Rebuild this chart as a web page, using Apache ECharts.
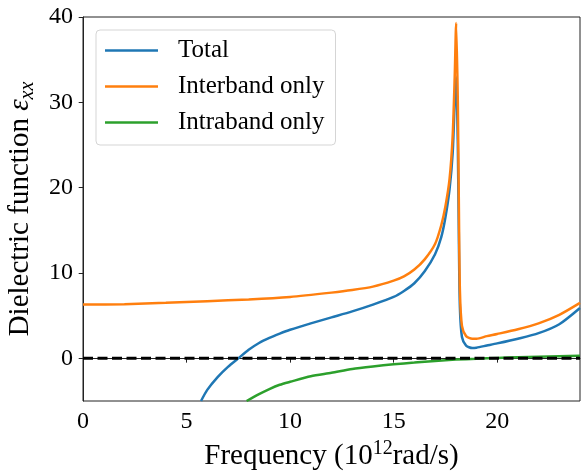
<!DOCTYPE html>
<html>
<head>
<meta charset="utf-8">
<script src="https://cdn.jsdelivr.net/npm/echarts@6/dist/echarts.min.js"></script>
<style>
html,body{margin:0;padding:0;background:#fff;}
#c{width:584px;height:473px;}
</style>
</head>
<body>
<div id="c"></div>
<script>
// Frequency (10^12 rad/s) samples and epsilon_xx values
const totalX = [5.7, 6.0, 6.5, 7.0, 7.5, 8.0, 8.5, 9.0, 9.5, 10, 11, 12, 13, 14, 15, 15.5, 16, 16.5, 17, 17.3, 17.5, 17.7, 17.85, 17.95, 18.02, 18.1, 18.15, 18.2, 18.3, 18.5, 18.8, 19, 19.5, 20, 21, 22, 23, 24];
const totalY = [-5, -3.7, -2.2, -1.0, 0, 1.0, 1.8, 2.4, 2.9, 3.35, 4.1, 4.8, 5.5, 6.3, 7.2, 7.9, 8.8, 10.2, 12.2, 14.2, 16.5, 19.8, 24, 30, 33, 25, 14, 6, 2.5, 1.5, 1.2, 1.25, 1.5, 1.75, 2.3, 2.95, 4.0, 5.9];

const interX = [0, 2, 4, 6, 8, 10, 12, 13, 14, 15, 15.5, 16, 16.5, 17, 17.3, 17.5, 17.7, 17.85, 17.95, 18.02, 18.1, 18.15, 18.2, 18.3, 18.5, 18.8, 19, 19.5, 20, 21, 22, 23, 24];
const interY = [6.3, 6.35, 6.5, 6.7, 6.9, 7.2, 7.7, 8.0, 8.4, 9.1, 9.6, 10.4, 11.6, 13.4, 15.6, 17.8, 21, 26, 33, 39.3, 30, 18, 8, 3.8, 2.6, 2.3, 2.3, 2.6, 2.85, 3.4, 4.1, 5.1, 6.5];

const intraX = [7.9, 8.5, 9, 9.5, 10, 11, 12, 13, 14, 15, 16, 17, 18, 19, 20, 21, 22, 23, 24];
const intraY = [-5, -4.2, -3.6, -3.1, -2.75, -2.1, -1.7, -1.25, -0.95, -0.7, -0.5, -0.3, -0.15, -0.05, 0.05, 0.12, 0.18, 0.24, 0.3];

// zero reference line (black dashed)
const zeroX = [0, 24];
const zeroY = [0, 0];

const xTicks = [0, 5, 10, 15, 20];
const yTicks = [0, 10, 20, 30, 40];
const seriesNames = ['Total', 'Interband only', 'Intraband only'];
const colors = ['#1f77b4', '#ff7f0e', '#2ca02c'];

const zip = (xs, ys) => xs.map((x, i) => [x, ys[i]]);
const FONT = 'Liberation Serif';

const chart = echarts.init(document.getElementById('c'), null, {renderer: 'canvas'});

function lineSeries(name, data, color) {
  return {
    name: name, type: 'line', data: data, showSymbol: false, symbol: 'none',
    smooth: 0.25, clip: true,
    lineStyle: {color: color, width: 2.5}, itemStyle: {color: color},
    emphasis: {disabled: true}, animation: false
  };
}

const zeroSeries = {
  name: 'zero', type: 'line', data: zip(zeroX, zeroY), showSymbol: false, symbol: 'none',
  lineStyle: {color: '#000', type: [10, 4.5], width: 3}, itemStyle: {color: '#000'},
  emphasis: {disabled: true}, animation: false
};

chart.setOption({
  animation: false,
  backgroundColor: '#fff',
  grid: {left: 83, right: 4, top: 17, bottom: 72, show: true, borderColor: '#222', borderWidth: 1,
         containLabel: false, outerBoundsMode: 'none'},
  legend: {
    left: 96, top: 30, orient: 'vertical',
    data: seriesNames,
    icon: 'rect',
    itemWidth: 53, itemHeight: 2.6, itemGap: 11,
    padding: [8, 11, 10, 9],
    backgroundColor: '#fff', borderColor: '#d5d5d5', borderWidth: 1, borderRadius: 4,
    textStyle: {fontFamily: FONT, fontSize: 25, lineHeight: 25, color: '#000', padding: [0, 0, 0, 15]}
  },
  xAxis: {
    type: 'value', min: 0, max: 24,
    name: '{a|Frequency (10}{sup|12}{a|rad/s)}',
    nameLocation: 'middle', nameGap: 33,
    nameTextStyle: {
      fontFamily: FONT, color: '#000',
      rich: {
        a: {fontFamily: FONT, fontSize: 29, color: '#000', lineHeight: 32, verticalAlign: 'bottom'},
        sup: {fontFamily: FONT, fontSize: 20, color: '#000', lineHeight: 16, verticalAlign: 'top'}
      }
    },
    axisLine: {show: true, lineStyle: {color: '#222', width: 1}},
    axisTick: {show: true, inside: false, length: 4.3, lineStyle: {color: '#222', width: 1}, customValues: xTicks},
    axisLabel: {fontFamily: FONT, fontSize: 24, color: '#000', margin: 9, customValues: xTicks},
    splitLine: {show: false}
  },
  yAxis: {
    type: 'value', min: -5, max: 40,
    name: '{a|Dielectric function }{e|ε}{s|xx}',
    nameLocation: 'middle', nameGap: 45,
    nameTextStyle: {
      fontFamily: FONT, color: '#000',
      rich: {
        a: {fontFamily: FONT, fontSize: 29, color: '#000', lineHeight: 32, verticalAlign: 'top'},
        e: {fontFamily: FONT, fontSize: 29, fontStyle: 'italic', color: '#000', lineHeight: 32, verticalAlign: 'top'},
        s: {fontFamily: FONT, fontSize: 20, fontStyle: 'italic', color: '#000', lineHeight: 14, verticalAlign: 'bottom'}
      }
    },
    axisLine: {show: true, lineStyle: {color: '#222', width: 1}},
    axisTick: {show: true, inside: false, length: 4.3, lineStyle: {color: '#222', width: 1}, customValues: yTicks},
    axisLabel: {fontFamily: FONT, fontSize: 24, color: '#000', margin: 10, customValues: yTicks},
    splitLine: {show: false}
  },
  series: [
    lineSeries(seriesNames[0], zip(totalX, totalY), colors[0]),
    lineSeries(seriesNames[1], zip(interX, interY), colors[1]),
    lineSeries(seriesNames[2], zip(intraX, intraY), colors[2]),
    zeroSeries
  ]
});
</script>
</body>
</html>
